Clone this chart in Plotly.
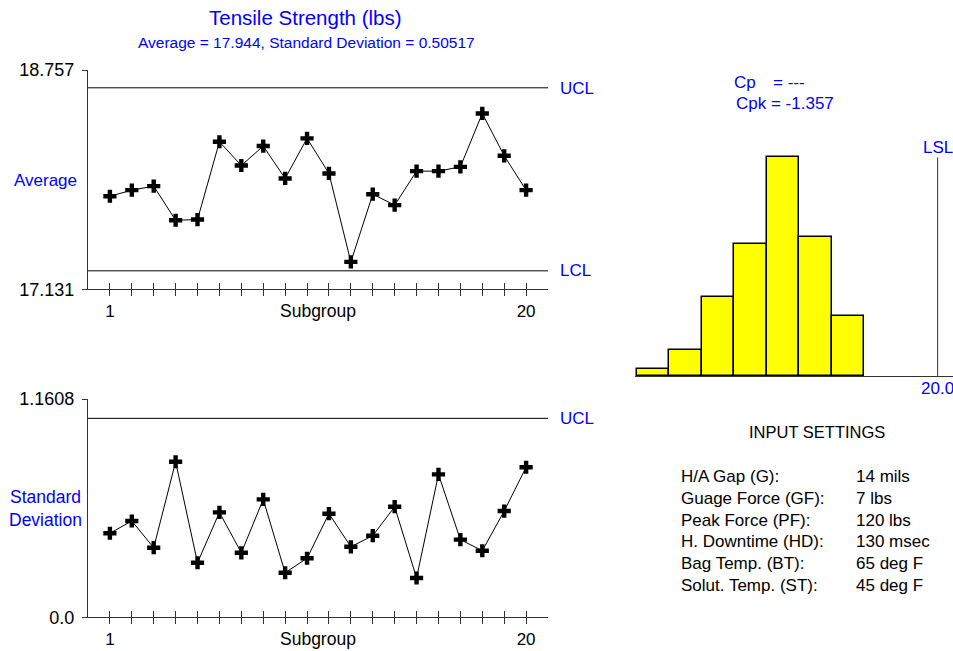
import plotly.graph_objects as go

# ---------------- data ----------------
subgroups = list(range(1, 21))
averages = [17.821, 17.866, 17.896, 17.643, 17.648, 18.225, 18.049, 18.193, 17.953, 18.250,
            17.990, 17.334, 17.836, 17.755, 18.007, 18.007, 18.039, 18.435, 18.121, 17.866]
std_devs = [0.447, 0.512, 0.370, 0.827, 0.290, 0.558, 0.343, 0.627, 0.237, 0.314,
            0.551, 0.375, 0.434, 0.588, 0.209, 0.760, 0.413, 0.354, 0.565, 0.798]
avg_axis = [17.131, 18.757]
avg_ucl, avg_lcl = 18.625, 17.268
sd_axis = [0.0, 1.1608]
sd_ucl = 1.058
hist_bin_centers = [16.5, 16.9, 17.3, 17.7, 18.1, 18.5, 18.9]
hist_counts = [1, 4, 12, 20, 33, 21, 9]
hist_bin_width = 0.4
lsl = 20.0
title_text = "Tensile Strength (lbs)"
subtitle_text = "Average = 17.944, Standard Deviation = 0.50517"
cp_text, cpk_text = "= ---", "Cpk = -1.357"
setting_names = ["H/A Gap (G):", "Guage Force (GF):", "Peak Force (PF):",
                 "H. Downtime (HD):", "Bag Temp. (BT):", "Solut. Temp. (ST):"]
setting_values = ["14 mils", "7 lbs", "120 lbs", "130 msec", "65 deg F", "45 deg F"]

# ---------------- helpers ----------------
W, H = 953, 651
FONT = "Liberation Sans, Arial, sans-serif"
BLUE = "#0000FF"
AX = "#333333"


def fx(px):
    return px / W


def fy(py):
    return 1 - py / H


fig = go.Figure()

cross = dict(symbol="cross", size=11, color="black")
fig.add_trace(go.Scatter(x=subgroups, y=averages, mode="lines+markers",
                         line=dict(color="black", width=1), marker=cross,
                         xaxis="x", yaxis="y", showlegend=False, hoverinfo="skip"))
fig.add_trace(go.Scatter(x=subgroups, y=std_devs, mode="lines+markers",
                         line=dict(color="black", width=1), marker=cross,
                         xaxis="x2", yaxis="y2", showlegend=False, hoverinfo="skip"))
fig.add_trace(go.Bar(x=hist_bin_centers, y=hist_counts, width=hist_bin_width,
                     marker=dict(color="#FFFF00", line=dict(color="black", width=1.5)),
                     xaxis="x3", yaxis="y3", showlegend=False, hoverinfo="skip"))
# helper traces so the overlay axes (inner half of crossing ticks) are drawn
fig.add_trace(go.Scatter(x=[subgroups[0]], y=[averages[0]], mode="markers", marker=dict(opacity=0),
                         xaxis="x4", yaxis="y4", showlegend=False, hoverinfo="skip"))
fig.add_trace(go.Scatter(x=[subgroups[0]], y=[std_devs[0]], mode="markers", marker=dict(opacity=0),
                         xaxis="x5", yaxis="y5", showlegend=False, hoverinfo="skip"))

tick_text = [str(s) if s in (subgroups[0], subgroups[-1]) else "" for s in subgroups]
xdom = [fx(88), fx(548)]


def xax(**kw):
    d = dict(domain=xdom, range=[0, 21], showline=True, linecolor=AX, linewidth=1,
             ticks="outside", ticklen=6, tickcolor=AX, tickvals=subgroups, ticktext=tick_text,
             tickfont=dict(family=FONT, size=17, color="black"), showgrid=False, zeroline=False,
             fixedrange=True, automargin=False)
    d.update(kw)
    return d


def yax(rng, dom, **kw):
    d = dict(domain=dom, range=rng, showline=True, linecolor=AX, linewidth=1,
             ticks="outside", ticklen=5, tickcolor=AX, tickvals=rng,
             ticktext=[f"{v:g}" if v != 0 else "0.0" for v in rng],
             tickfont=dict(family=FONT, size=18, color="black"), showgrid=False, zeroline=False,
             fixedrange=True, ticklabelstandoff=4, automargin=False)
    d.update(kw)
    return d


top_dom = [fy(289.3), fy(70)]
bot_dom = [fy(617.3), fy(399)]

fig.update_layout(
    width=W, height=H, margin=dict(l=0, r=0, t=0, b=0, autoexpand=False),
    paper_bgcolor="white", plot_bgcolor="white",
    font=dict(family=FONT, color="black"),
    xaxis=xax(anchor="y"),
    yaxis=yax(avg_axis, top_dom, anchor="x"),
    xaxis2=xax(anchor="y2"),
    yaxis2=yax(sd_axis, bot_dom, anchor="x2"),
    xaxis4=xax(anchor="y4", overlaying="x", ticks="inside", showticklabels=False, showline=False),
    yaxis4=yax(avg_axis, top_dom, anchor="x4", overlaying="y", ticks="inside",
               showticklabels=False, showline=False),
    xaxis5=xax(anchor="y5", overlaying="x2", ticks="inside", showticklabels=False, showline=False),
    yaxis5=yax(sd_axis, bot_dom, anchor="x5", overlaying="y2", ticks="inside",
               showticklabels=False, showline=False),
    xaxis3=dict(domain=[fx(635), 1], range=[16.28, 16.28 + 318 / 81.35], anchor="y3",
                showline=True, linecolor=AX, linewidth=1, ticks="", showticklabels=False,
                showgrid=False, zeroline=False, fixedrange=True, automargin=False),
    yaxis3=dict(domain=[fy(376), fy(111)], range=[0, 40], anchor="x3", visible=False,
                fixedrange=True, automargin=False),
    bargap=0,
)

shapes = []
for yv in (avg_ucl, avg_lcl):
    shapes.append(dict(type="line", xref="x", yref="y", x0=0, x1=21, y0=yv, y1=yv,
                       line=dict(color="black", width=1)))
shapes.append(dict(type="line", xref="x2", yref="y2", x0=0, x1=21, y0=sd_ucl, y1=sd_ucl,
                   line=dict(color="black", width=1)))
shapes.append(dict(type="line", xref="x3", yref="y3", x0=lsl, x1=lsl, y0=0, y1=max(hist_counts),
                   line=dict(color=AX, width=1)))
fig.update_layout(shapes=shapes)

ann = []


def text(t, x, y, size, color=BLUE, xanchor="center", xref="paper"):
    ann.append(dict(text=t, x=x if xref != "paper" else fx(x), y=fy(y), xref=xref, yref="paper",
                    xanchor=xanchor, yanchor="middle", showarrow=False,
                    font=dict(family=FONT, size=size, color=color)))


text(title_text, 305, 18, 20.5)
text(subtitle_text, 306, 43, 15.5)
text("UCL", 558, 88, 17, xanchor="left")
text("LCL", 558, 270, 17, xanchor="left")
text("UCL", 558, 418, 17, xanchor="left")
text("Average", 45, 181, 17)
text("Standard", 45, 497, 17.5)
text("Deviation", 45, 520, 17.5)
text("Subgroup", 318, 311, 17.5, color="black")
text("Subgroup", 318, 639, 17.5, color="black")
text("Cp", 732, 82, 17, xanchor="left")
text(cp_text, 771, 82, 17, xanchor="left")
text(cpk_text, 734, 103, 17, xanchor="left")
text("LSL", 921, 147, 17, xanchor="left")
text(f"{lsl:.1f}", 919, 388, 17, xanchor="left")
text("INPUT SETTINGS", 817, 432, 16.5, color="black")
for i, (n, v) in enumerate(zip(setting_names, setting_values)):
    yy = 476.7 + i * 21.67
    text(n, 679, yy, 17, color="black", xanchor="left")
    text(v, 854, yy, 17, color="black", xanchor="left")
fig.update_layout(annotations=ann)

fig.write_html("out.html", config={"displayModeBar": False},
               post_script="document.body.style.margin='0';document.body.style.overflow='hidden';")
